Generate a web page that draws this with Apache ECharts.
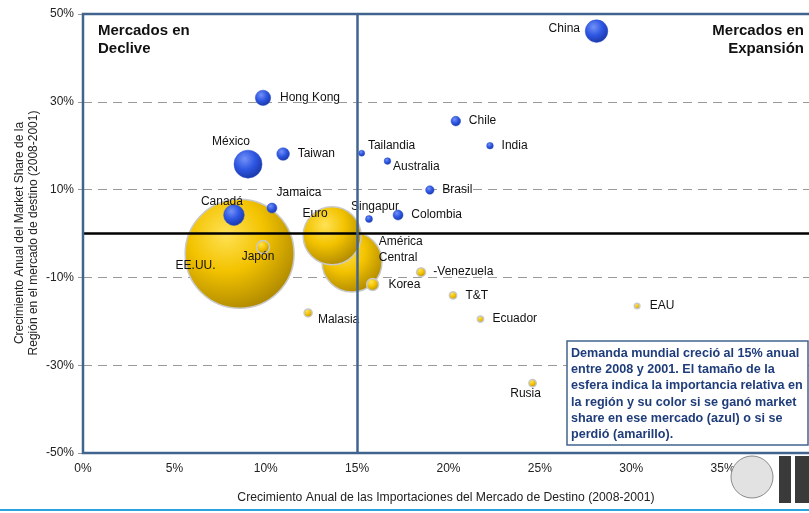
<!DOCTYPE html>
<html>
<head>
<meta charset="utf-8">
<script src="https://cdn.jsdelivr.net/npm/echarts@6/dist/echarts.min.js"></script>
<style>
  html, body { margin: 0; padding: 0; background: #fff; }
  #chart { width: 809px; height: 513px; }
</style>
</head>
<body>
<div id="chart"></div>
<script>
// datos (en %)
const countries = ['EE.UU.', 'América\nCentral', 'Euro', 'México', 'China', 'Canadá', 'Hong Kong', 'Japón',
  'Taiwan', 'Korea', 'Jamaica', 'Colombia', 'Chile', '-Venezuela', 'Brasil', 'Malasia', 'Rusia', 'T&T',
  'Singapur', 'India', 'Australia', 'Ecuador', 'Tailandia', 'EAU'];
const importGrowth = [8.57, 14.72, 13.63, 9.03, 28.1, 8.26, 9.85, 9.85,
  10.95, 15.85, 10.34, 17.24, 20.4, 18.5, 18.98, 12.32, 24.6, 20.25,
  15.65, 22.27, 16.66, 21.75, 15.25, 30.32];
const shareGrowth = [-4.6, -6.5, -0.5, 15.8, 46.1, 4.2, 30.9, -3.1,
  18.1, -11.6, 5.8, 4.2, 25.6, -8.8, 9.9, -18.1, -34.1, -14.1,
  3.3, 20.0, 16.5, -19.5, 18.3, -16.5];
// importancia relativa en la region (tamaño de la esfera)
const weight = [100, 30.3, 28.3, 6.6, 4.3, 3.6, 2.0, 1.42,
  1.34, 1.21, 0.84, 0.84, 0.78, 0.68, 0.6, 0.54, 0.46, 0.46,
  0.41, 0.37, 0.37, 0.34, 0.3, 0.26];
const xTicks = [0, 5, 10, 15, 20, 25, 30, 35, 40];
const yTicks = [-50, -30, -10, 10, 30, 50];
const worldGrowth = 15;

// posicion de etiquetas [posicion, dx, dy]
const labelPos = {
  'China': ['left', 0, -2], 'Hong Kong': ['right', 4, 0], 'México': ['top', -17, 5],
  'Taiwan': ['right', 3, 0], 'Canadá': ['top', -12, 10], 'Jamaica': ['top', 27, 3],
  'EE.UU.': ['inside', -44, 12], 'Japón': ['inside', -5, 10], 'Euro': ['inside', -17, -22],
  'América\nCentral': ['right', -9, -12], 'Korea': ['right', 4, 0], 'Malasia': ['right', 0, 7],
  'Tailandia': ['right', -2, -7], 'Australia': ['right', -3, 6], 'Chile': ['right', 3, 0],
  'India': ['right', 3, 0], 'Brasil': ['right', 3, 0], 'Singapur': ['top', 6, 4],
  'Colombia': ['right', 3, 0], '-Venezuela': ['right', 2, 0], 'T&T': ['right', 3, 0],
  'Ecuador': ['right', 3, 0], 'EAU': ['right', 4, 0], 'Rusia': ['bottom', -7, -7]
};

const FONT = '"Liberation Sans", Arial, sans-serif';
const chart = echarts.init(document.getElementById('chart'));

const blueFill = new echarts.graphic.RadialGradient(0.38, 0.32, 0.75, [
  { offset: 0, color: '#7391f7' },
  { offset: 0.5, color: '#2d56e2' },
  { offset: 1, color: '#17339e' }
]);
const goldFill = new echarts.graphic.RadialGradient(0.38, 0.32, 0.75, [
  { offset: 0, color: '#ffe255' },
  { offset: 0.45, color: '#f3c300' },
  { offset: 1, color: '#a88300' }
]);

function buildData(gain) {
  const out = [];
  countries.forEach((name, i) => {
    if ((shareGrowth[i] > 0) !== gain) return;
    const p = labelPos[name];
    out.push({
      name: name,
      value: [importGrowth[i], shareGrowth[i], weight[i]],
      label: { position: p[0], offset: [p[1], p[2]] }
    });
  });
  return out.sort((a, b) => b.value[2] - a.value[2]);
}

const bubbleLabel = {
  show: true,
  formatter: '{b}',
  color: '#111',
  fontSize: 12,
  fontFamily: FONT,
  distance: 5,
  lineHeight: 16
};

const option = {
  backgroundColor: '#fff',
  animation: false,
  grid: { left: 83, top: 14, width: 731, height: 439, outerBoundsMode: 'none', containLabel: false },
  xAxis: {
    type: 'value',
    min: 0, max: 40, interval: 5,
    axisLine: { show: false },
    axisTick: { show: false },
    splitLine: { show: false },
    axisLabel: {
      margin: 10, color: '#222', fontSize: 12, fontFamily: FONT,
      formatter: v => xTicks.indexOf(v) >= 0 ? v + '%' : ''
    }
  },
  yAxis: {
    type: 'value',
    min: -50, max: 50, interval: 20,
    axisLine: { show: false },
    axisTick: { show: true, length: 5, lineStyle: { color: '#999' } },
    splitLine: { show: true, lineStyle: { color: '#9a9a9a', type: [9, 6], width: 1 } },
    axisLabel: {
      margin: 9, color: '#222', fontSize: 12, fontFamily: FONT,
      formatter: v => yTicks.indexOf(v) >= 0 ? v + '%' : ''
    }
  },
  series: [
    {
      // linea del cero
      type: 'scatter', data: [], z: 1, silent: true,
      markLine: {
        symbol: 'none', silent: true, label: { show: false },
        lineStyle: { color: '#000', width: 2.5, type: 'solid' },
        data: [{ yAxis: 0 }]
      }
    },
    {
      name: 'pierde', type: 'scatter', z: 2,
      data: buildData(false),
      symbolSize: v => Math.sqrt(v[2]) * 10.9,
      itemStyle: { color: goldFill, borderColor: '#c9c9c9', borderWidth: 1.5, opacity: 1 },
      label: bubbleLabel
    },
    {
      name: 'gana', type: 'scatter', z: 3,
      data: buildData(true),
      symbolSize: v => Math.sqrt(v[2]) * 10.9,
      itemStyle: { color: blueFill, borderColor: '#2b4fc8', borderWidth: 0.5, opacity: 1 },
      label: bubbleLabel
    },
    {
      // demanda mundial 15%
      type: 'scatter', data: [], z: 5, silent: true,
      markLine: {
        symbol: 'none', silent: true, label: { show: false },
        lineStyle: { color: '#41648f', width: 2.5, type: 'solid' },
        data: [{ xAxis: worldGrowth }]
      }
    }
  ]
};
chart.setOption(option);

// marco del area de grafico
const tl = chart.convertToPixel({ gridIndex: 0 }, [0, 50]);
const br = chart.convertToPixel({ gridIndex: 0 }, [40, -50]);

chart.setOption({
  graphic: [
    {
      type: 'rect', z: 20, silent: true,
      shape: { x: tl[0], y: tl[1], width: br[0] - tl[0], height: br[1] - tl[1] },
      style: { fill: null, stroke: '#41648f', lineWidth: 2.5 }
    },
    {
      type: 'text', left: 98, top: 22, z: 20,
      style: { text: 'Mercados en\nDeclive', font: 'bold 15px ' + FONT, fill: '#111', lineHeight: 18 }
    },
    {
      type: 'text', x: 804, y: 22, z: 20,
      style: { text: 'Mercados en\nExpansión', font: 'bold 15px ' + FONT, fill: '#111', lineHeight: 18, align: 'right' }
    },
    {
      type: 'rect', z: 20,
      shape: { x: 567, y: 341, width: 241, height: 104 },
      style: { fill: '#fff', stroke: '#41648f', lineWidth: 1.5 }
    },
    {
      type: 'text', x: 571, y: 345, z: 21,
      style: {
        text: 'Demanda mundial creció al 15% anual\nentre 2008 y 2001. El tamaño de la\nesfera indica la importancia relativa en\nla región y su color si se ganó market\nshare en ese mercado (azul) o si se\nperdió (amarillo).',
        font: 'bold 12.6px ' + FONT, fill: '#1f3d7a', lineHeight: 16.3
      }
    },
    {
      type: 'text', x: 27, y: 233, rotation: Math.PI / 2, z: 20,
      style: {
        text: 'Crecimiento Anual del Market Share de la\nRegión en el mercado de destino (2008-2001)',
        font: '12px ' + FONT, fill: '#222', align: 'center', verticalAlign: 'middle', lineHeight: 14
      }
    },
    {
      type: 'text', x: 446, y: 498, z: 20,
      style: {
        text: 'Crecimiento Anual de las Importaciones del Mercado de Destino (2008-2001)',
        font: '12.2px ' + FONT, fill: '#222', align: 'center', verticalAlign: 'middle'
      }
    },
    {
      type: 'line', z: 20,
      shape: { x1: 0, y1: 510, x2: 809, y2: 510 },
      style: { stroke: '#2aa3df', lineWidth: 2 }
    },
    // logo
    {
      type: 'circle', z: 22,
      shape: { cx: 752, cy: 477, r: 21 },
      style: { fill: '#e2e2e2', stroke: '#8a8a8a', lineWidth: 1 }
    },
    {
      type: 'rect', z: 22,
      shape: { x: 779, y: 456, width: 12, height: 47 },
      style: { fill: '#3a3a3a' }
    },
    {
      type: 'rect', z: 22,
      shape: { x: 795, y: 456, width: 14, height: 47 },
      style: { fill: '#3a3a3a' }
    }
  ]
});
</script>
</body>
</html>
